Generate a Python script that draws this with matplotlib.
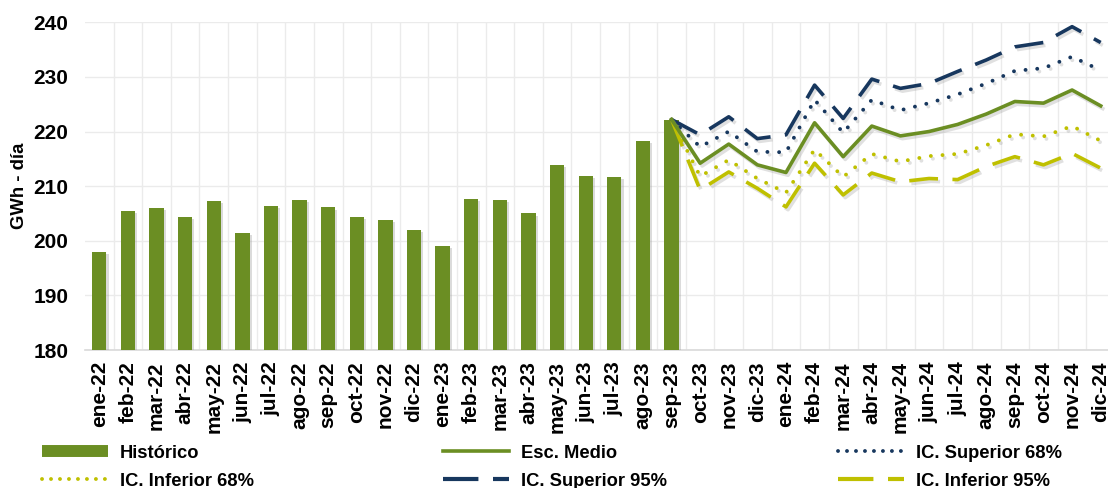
import matplotlib.pyplot as plt
import matplotlib.patheffects as pe
from matplotlib.lines import Line2D

plt.rcParams['font.family'] = ['Liberation Sans', 'DejaVu Sans']
plt.rcParams['font.weight'] = 'bold'

months = ["ene-22", "feb-22", "mar-22", "abr-22", "may-22", "jun-22", "jul-22", "ago-22",
          "sep-22", "oct-22", "nov-22", "dic-22", "ene-23", "feb-23", "mar-23", "abr-23",
          "may-23", "jun-23", "jul-23", "ago-23", "sep-23", "oct-23", "nov-23", "dic-23",
          "ene-24", "feb-24", "mar-24", "abr-24", "may-24", "jun-24", "jul-24", "ago-24",
          "sep-24", "oct-24", "nov-24", "dic-24"]

# historical data (ene-22 .. sep-23)
historico = [197.9, 205.4, 206.0, 204.4, 207.3, 201.5, 206.3, 207.4, 206.1, 204.3,
             203.8, 201.9, 199.0, 207.7, 207.5, 205.0, 213.8, 211.9, 211.7, 218.3, 222.2]

# forecasts (sep-23 .. dic-24)
esc_medio = [222.2, 214.2, 217.7, 213.9, 212.5, 221.6, 215.4, 221.0, 219.2, 220.0,
             221.3, 223.2, 225.5, 225.2, 227.6, 224.7]
ic_sup_68 = [222.2, 217.2, 220.0, 216.3, 216.2, 225.8, 219.8, 225.8, 223.9, 225.2,
             226.8, 228.8, 231.1, 231.6, 233.7, 231.2]
ic_inf_68 = [222.2, 211.8, 214.8, 211.4, 208.8, 216.7, 211.7, 215.9, 214.5, 215.5,
             215.9, 217.5, 219.5, 219.1, 221.0, 218.3]
ic_sup_95 = [222.2, 219.4, 222.7, 218.7, 219.4, 228.5, 222.4, 229.6, 227.9, 228.8,
             231.0, 233.1, 235.5, 236.3, 239.2, 236.3]
ic_inf_95 = [222.2, 209.3, 212.6, 209.6, 206.2, 214.2, 208.4, 212.4, 210.8, 211.4,
             211.2, 213.6, 215.4, 213.9, 216.0, 213.3]

GREEN = "#6b8e23"
NAVY = "#17375e"
YELLOW = "#bfc000"

fig = plt.figure(figsize=(11.08, 4.88), dpi=100)
ax = fig.add_axes([85 / 1108, 138 / 488, 1030 / 1108, 327.7 / 488])

shadow = [pe.SimplePatchShadow(offset=(1.5, -1.5), shadow_rgbFace="0.6", alpha=0.35), pe.Normal()]
lshadow = [pe.SimpleLineShadow(offset=(1.5, -2), shadow_color="0.6", alpha=0.3), pe.Normal()]

x_hist = list(range(len(historico)))
bars = ax.bar(x_hist, [v - 180 for v in historico], bottom=180, width=0.5, color=GREEN, zorder=3)
for b in bars:
    b.set_path_effects(shadow)

x_fc = list(range(len(historico) - 1, len(months)))
dot = (0, (0.01, 3))
dash = (0, (8, 4))
ax.plot(x_fc, ic_inf_95, color=YELLOW, lw=2.6, ls=dash, zorder=4, path_effects=lshadow)
ax.plot(x_fc, ic_inf_68, color=YELLOW, lw=2.8, ls=dot, dash_capstyle="round", zorder=4, path_effects=lshadow)
ax.plot(x_fc, ic_sup_95, color=NAVY, lw=2.6, ls=dash, zorder=4, path_effects=lshadow)
ax.plot(x_fc, ic_sup_68, color=NAVY, lw=2.8, ls=dot, dash_capstyle="round", zorder=4, path_effects=lshadow)
ax.plot(x_fc, esc_medio, color=GREEN, lw=2.6, zorder=5, path_effects=lshadow)

ax.set_xlim(-0.5, len(months) - 0.5)
ax.set_ylim(180, 240)
ax.set_yticks(range(180, 241, 10))
ax.set_xticks(range(len(months)))
ax.set_xticklabels(months, rotation=90, fontsize=15, fontweight="bold")
ax.set_xticks([i + 0.5 for i in range(len(months))], minor=True)
ax.tick_params(axis="y", labelsize=15, length=0, pad=12)
ax.tick_params(axis="x", which="both", length=0, pad=8)
ax.grid(axis="y", which="major", color="#ebebeb", lw=1, zorder=0)
ax.grid(axis="x", which="minor", color="#ebebeb", lw=1, zorder=0)
ax.grid(axis="x", which="major", visible=False)
for s in ["top", "right", "left"]:
    ax.spines[s].set_visible(False)
ax.spines["bottom"].set_color("#d9d9d9")
ax.spines["bottom"].set_linewidth(1.2)
ax.set_ylabel("GWh - día", fontsize=13.3, fontweight="bold")
ax.yaxis.set_label_coords(-0.055, 0.5)

# legend: three columns placed by hand
dot_leg = (0, (0.01, 2.3))
dash_leg = (0, (8.5, 3.5))
columns = [
    (42, [Line2D([], [], color=GREEN, lw=8.6, solid_capstyle="butt", label="Histórico"),
          Line2D([], [], color=YELLOW, lw=2.8, ls=dot_leg, dash_capstyle="round", label="IC. Inferior 68%")]),
    (443, [Line2D([], [], color=GREEN, lw=2.6, label="Esc. Medio"),
           Line2D([], [], color=NAVY, lw=3, ls=dash_leg, label="IC. Superior 95%")]),
    (838, [Line2D([], [], color=NAVY, lw=2.8, ls=dot_leg, dash_capstyle="round", label="IC. Superior 68%"),
           Line2D([], [], color=YELLOW, lw=3, ls=dash_leg, label="IC. Inferior 95%")]),
]
for xpos, hs in columns:
    fig.legend(handles=hs, loc="upper left", bbox_to_anchor=(xpos / 1108, 1 - 444 / 488),
               frameon=False, handlelength=3.6, handleheight=0.9, labelspacing=0.55,
               handletextpad=0.65, borderpad=0, borderaxespad=0,
               prop={"weight": "bold", "size": 13.2})

fig.savefig("out.png", dpi=100)
